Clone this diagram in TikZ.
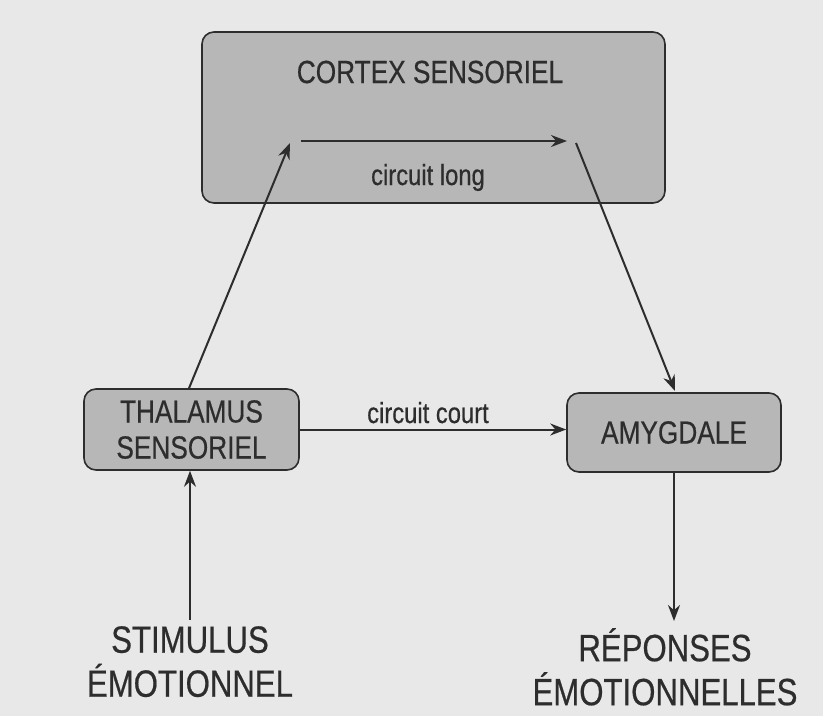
\documentclass[tikz,border=0pt]{standalone}
\usepackage{fontspec}
\setmainfont{Liberation Sans}[FakeStretch=0.82, FakeBold=0.5]
\usetikzlibrary{arrows.meta, positioning}
\definecolor{paper}{RGB}{232,232,232}
\definecolor{boxgrey}{RGB}{183,183,183}
\definecolor{ink}{RGB}{45,45,45}

\begin{document}
\begin{tikzpicture}[
    x=1pt, y=-1pt,
    box/.style={draw=ink, line width=1.6pt, fill=boxgrey, rounded corners=12pt, align=center, text=ink, font=\fontsize{32}{36}\selectfont},
    lbl/.style={align=center, inner sep=0pt, text=ink, font=\fontsize{38}{44}\selectfont},
    small/.style={inner sep=0pt, text=ink, font=\fontsize{29}{34}\selectfont},
    arr/.style={-{Stealth[length=16pt, width=12pt]}, line width=2pt, draw=ink}
]
% background
\fill[paper] (0,0) rectangle (823,716);
\useasboundingbox (0,0) rectangle (823,716);

% boxes
\node[box, minimum width=463pt, minimum height=171pt] (cortex) at (433.5,117.5) {};
\node[small, anchor=base] (cortextxt) at (430,83) {\fontsize{32}{36}\selectfont CORTEX SENSORIEL};
\node[box, minimum width=215pt, minimum height=81pt] (thal) at (191.5,429.5) {THALAMUS\\SENSORIEL};
\node[box, minimum width=214pt, minimum height=79pt] (amyg) at (674,432.5) {AMYGDALE};

% inner points of the long circuit
\coordinate (longin) at (290,143);
\coordinate (longa) at (301,141);
\coordinate (longb) at (567,141);
\coordinate (longout) at (576,143);
\coordinate (amygin) at (675,391);

% labels
\node[small, anchor=base] (longlbl) at (428,185) {circuit long};
\node[small, anchor=base] (shortlbl) at (428,423) {circuit court};
\node[lbl, anchor=north] (stim) at (190,626) {STIMULUS\\ÉMOTIONNEL};
\node[lbl, anchor=north] (rep) at (665,628) {RÉPONSES\\ÉMOTIONNELLES};
\coordinate (stimtop) at (190,620);
\coordinate (reptop) at (674,621);

% connectors
\draw[arr] (thal.north -| 189,0) -- (longin);
\draw[arr] (longa) -- (longb);
\draw[arr] (longout) -- (amygin);
\draw[arr] (thal.east) -- (amyg.west |- thal.east);
\draw[arr] (stimtop) -- (thal.south -| stimtop);
\draw[arr] (amyg.south -| reptop) -- (reptop);
\end{tikzpicture}
\end{document}
